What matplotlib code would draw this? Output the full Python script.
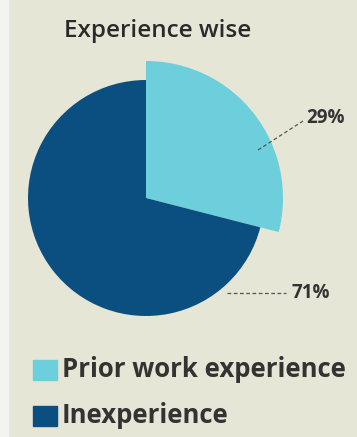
import matplotlib
matplotlib.use("Agg")
import matplotlib.pyplot as plt
from matplotlib.patches import Rectangle

title = "Experience wise"
categories = ["Prior work experience", "Inexperience"]
values = [29, 71]
labels = ["29%", "71%"]
colors = ["#6dcfdc", "#0b4f80"]

BG = "#e6e6d6"
W, H = 357, 437
fig = plt.figure(figsize=(W / 100, H / 100), dpi=100)
fig.patch.set_facecolor(BG)
ax = fig.add_axes([0, 0, 1, 1])
ax.set_facecolor(BG)

# light strip at left edge
ax.add_patch(Rectangle((0, 0), 8, H, color="#f3f3f1", zorder=0))

cx, cy = 146, 239
r_small, r_big = 118, 137
wedges, _ = ax.pie(values, colors=colors, startangle=90, counterclock=False,
                   center=(cx, cy), radius=r_small, frame=True)
wedges[0].set_radius(r_big)
ax.set_xlim(0, W)
ax.set_ylim(0, H)
ax.set_aspect("equal")
ax.axis("off")

font = "Open Sans"
ax.text(158, 400, title, ha="center", va="baseline", fontsize=17.5,
        family=font, weight="semibold", color="#2a2a2a")

# leader lines and labels
ax.plot([258, 303], [287, 316], ls=(0, (3, 2)), color="#555555", lw=0.9)
ax.text(306, 319, labels[0], ha="left", va="center", fontsize=13.5,
        family=font, weight="bold", color="#333333")
ax.plot([227, 286], [144, 144], ls=(0, (3, 2)), color="#555555", lw=0.9)
ax.text(291, 144, labels[1], ha="left", va="center", fontsize=13.5,
        family=font, weight="bold", color="#333333")

# legend
for i, (cat, col) in enumerate(zip(categories, colors)):
    yb = 60 - i * 46
    ax.add_patch(Rectangle((33, yb - 3), 24, 20, color=col))
    ax.text(62, yb, cat, ha="left", va="baseline", fontsize=18.5,
            family=font, weight="bold", color="#333333")

fig.savefig("out.png", dpi=100, facecolor=BG)
